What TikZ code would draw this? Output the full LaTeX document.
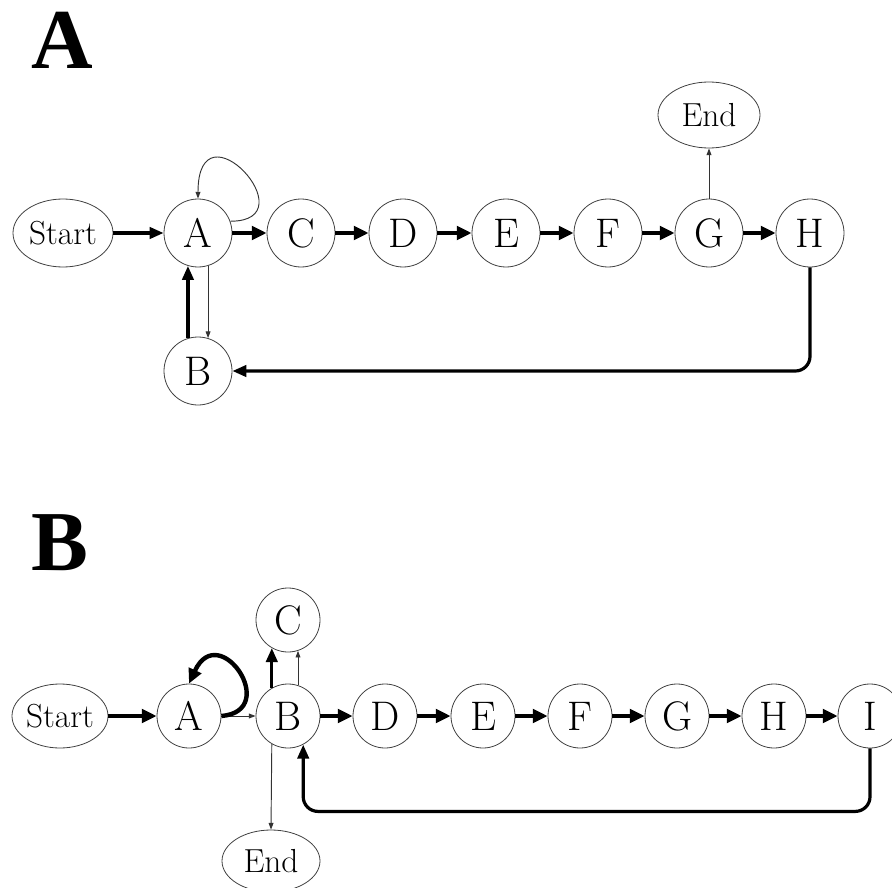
\documentclass[tikz,border=0pt]{standalone}
\usepackage{fontspec}
\newfontfamily\panelfont{Liberation Serif}
\usetikzlibrary{arrows.meta,shapes.geometric}

\begin{document}
\begin{tikzpicture}[x=0.75pt,y=-0.75pt,
		stat/.style={circle,draw=black!75,line width=0.6pt,minimum size=51pt,inner sep=0pt,font=\fontsize{31}{34}\selectfont},
		statb/.style={stat,minimum size=48pt},
		term/.style={ellipse,draw=black!75,line width=0.6pt,inner sep=0pt,font=\fontsize{25}{28}\selectfont},
		panel/.style={anchor=west,inner sep=0pt,font=\panelfont\bfseries\fontsize{64}{70}\selectfont},
		bigarrow/.style={line width=3.3pt,-{Triangle[length=11pt,width=10pt]}},
		midarrow/.style={line width=2.4pt,-{Triangle[length=10.5pt,width=8.5pt]}},
		smallarrow/.style={line width=0.7pt,color=black!80,-{Triangle[length=5pt,width=3.6pt]}}]
		%%%%% START %%%%%
		\useasboundingbox (0,0) rectangle (892,888);
		
		% panel A
		\node[panel] (labA) at (31,40) {A};
		
		\node[term,minimum width=75pt,minimum height=51pt] (start1) at (63,233) {Start};
		\node[term,minimum width=76.5pt,minimum height=49.5pt] (end1) at (709,115) {End};
		\node[stat] (a1) at (198,233) {A};
		\node[stat] (b1) at (198,371) {B};
		\node[stat] (c1) at (301,233) {C};
		\node[stat] (d1) at (403,233) {D};
		\node[stat] (e1) at (506,233) {E};
		\node[stat] (f1) at (608,233) {F};
		\node[stat] (g1) at (709,233) {G};
		\node[stat] (h1) at (810,233) {H};
		
		\draw[midarrow] (start1) -- (a1);
		\foreach \u/\v in {a1/c1,c1/d1,d1/e1,e1/f1,f1/g1,g1/h1}
			\draw[bigarrow] (\u) -- (\v);
		\draw[smallarrow] (g1) -- (end1);
		\draw[smallarrow] (a1.-73) -- (b1.73);
		\draw[midarrow] (b1.107) -- (a1.-107);
		\draw[smallarrow] (a1.20) .. controls +(80,0) and +(0,-100) .. (a1.north);
		\draw[midarrow,rounded corners=11pt] (h1.south) |- (b1.east);
		
		% panel B
		\node[panel] (labB) at (31,543) {B};
		
		\node[term,minimum width=72pt,minimum height=48pt] (start2) at (60,716) {Start};
		\node[term,minimum width=73.5pt,minimum height=46.5pt] (end2) at (271,861) {End};
		\node[statb] (a2) at (189,716) {A};
		\node[statb] (b2) at (288,716) {B};
		\node[statb] (c2) at (288,620) {C};
		\node[statb] (d2) at (385,716) {D};
		\node[statb] (e2) at (483,716) {E};
		\node[statb] (f2) at (580,716) {F};
		\node[statb] (g2) at (677,716) {G};
		\node[statb] (h2) at (774,716) {H};
		\node[statb] (i2) at (870,716) {I};
		
		\draw[bigarrow] (start2) -- (a2);
		\draw[smallarrow] (a2) -- (b2);
		\draw[bigarrow] (a2.east) .. controls +(60,-5) and +(30,-65) .. (a2.north);
		\draw[midarrow] (b2.120) -- (c2.-120);
		\draw[smallarrow] (b2.72) -- (c2.-72);
		\draw[smallarrow] (b2.-120) -- (end2.north);
		\foreach \u/\v in {b2/d2,d2/e2,e2/f2,f2/g2,g2/h2,h2/i2}
			\draw[bigarrow] (\u) -- (\v);
		\draw[midarrow,rounded corners=11pt] (i2.south) -- ++(0,63) -| (b2.-62);
		
		%%%%% END %%%%%
	\end{tikzpicture}
\end{document}
